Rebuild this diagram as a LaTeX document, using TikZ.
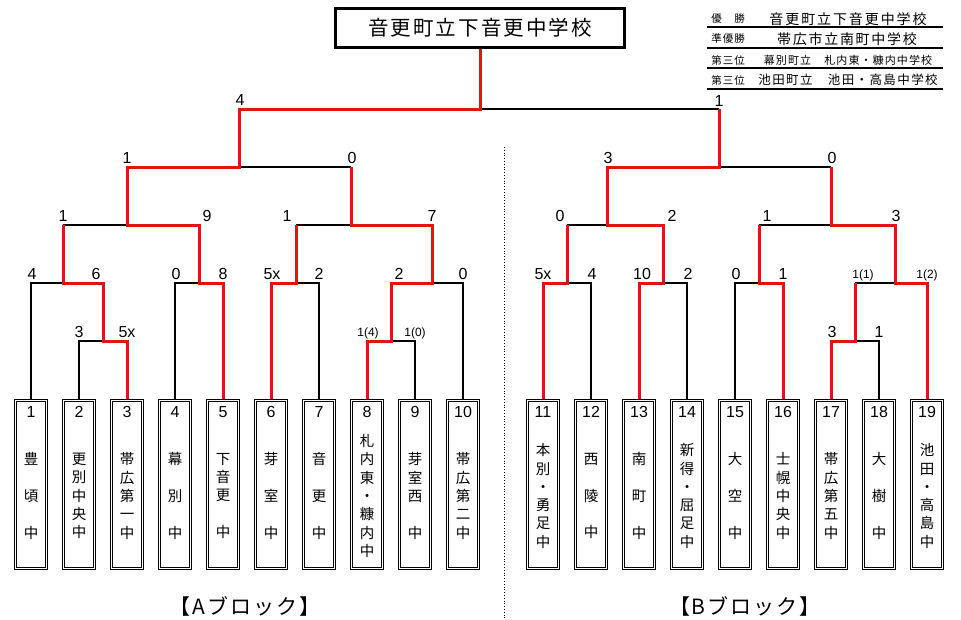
\documentclass[tikz,border=0pt]{standalone}
\usepackage{fontspec}
\setmainfont{Liberation Sans}
\newfontfamily\jp{Noto Sans CJK JP}
\usetikzlibrary{calc,backgrounds}
\definecolor{wred}{RGB}{228,18,18}
\newlength\cwid
\def\spacedloop#1{\ifx#1\relax\else\makebox[\cwid]{#1}\expandafter\spacedloop\fi}
\newcommand\spaced[2]{\setlength\cwid{#1}\spacedloop#2\relax}
\newcommand\gp{\phantom{中}}
\tikzset{
 win/.style={draw=wred, line width=3pt},
 lose/.style={draw=black, line width=1.8pt},
 tbox/.style={draw=black, line width=0.7pt, double=white, double distance=1.6pt, fill=white, minimum width=31pt, minimum height=168pt, inner sep=0pt},
 tnum/.style={font=\fontsize{16}{16}\selectfont, inner sep=0pt},
 tname/.style={font=\jp\fontsize{14.5}{18.3}\selectfont, align=center, inner sep=0pt},
 sc/.style={font=\fontsize{16}{16}\selectfont, inner sep=0pt, text height=11.5pt, text depth=0pt},
 scs/.style={font=\fontsize{12}{12}\selectfont, inner sep=0pt, text height=8.6pt, text depth=0pt},
 leglab/.style={font=\jp\fontsize{10.5}{10.5}\selectfont, inner sep=0pt},
 legtxt/.style={font=\jp, inner sep=0pt},
 blk/.style={font=\jp\fontsize{21}{21}\selectfont, inner sep=0pt},
 rule/.style={draw=black, line width=2pt},
}
\begin{document}
\begin{tikzpicture}[x=1pt,y=-1pt]
\useasboundingbox (0,0) rectangle (961,619);
% title
\node[draw=black, line width=3pt, minimum width=289pt, minimum height=39pt, inner sep=0pt] (title) at (480,28)
  {\jp\fontsize{20.5}{20.5}\selectfont\spaced{22.6pt}{音更町立下音更中学校}};
% team boxes and numbers
\foreach \i/\x in {1/31,2/79,3/127,4/175,5/223,6/271,7/319,8/367,9/415,10/463,
                   11/543,12/591,13/639,14/687,15/735,16/783,17/831,18/879,19/927}{
  \node[tbox] (t\i) at (\x,484.5) {};
  \node[tnum] (n\i) at (\x,412) {\i};
}
% team names
\node[tname] (nm1) at (31,496) {豊\\\gp\\頃\\\gp\\中};
\node[tname] (nm2) at (79,496) {更\\別\\中\\央\\中};
\node[tname] (nm3) at (127,496) {帯\\広\\第\\一\\中};
\node[tname] (nm4) at (175,496) {幕\\\gp\\別\\\gp\\中};
\node[tname] (nm5) at (223,496) {下\\音\\更\\\gp\\中};
\node[tname] (nm6) at (271,496) {芽\\\gp\\室\\\gp\\中};
\node[tname] (nm7) at (319,496) {音\\\gp\\更\\\gp\\中};
\node[tname] (nm8) at (367,496) {札\\内\\東\\・\\糠\\内\\中};
\node[tname] (nm9) at (415,496) {芽\\室\\西\\\gp\\中};
\node[tname] (nm10) at (463,496) {帯\\広\\第\\二\\中};
\node[tname] (nm11) at (543,496) {本\\別\\・\\勇\\足\\中};
\node[tname] (nm12) at (591,496) {西\\\gp\\陵\\\gp\\中};
\node[tname] (nm13) at (639,496) {南\\\gp\\町\\\gp\\中};
\node[tname] (nm14) at (687,496) {新\\得\\・\\屈\\足\\中};
\node[tname] (nm15) at (735,496) {大\\\gp\\空\\\gp\\中};
\node[tname] (nm16) at (783,496) {士\\幌\\中\\央\\中};
\node[tname] (nm17) at (831,496) {帯\\広\\第\\五\\中};
\node[tname] (nm18) at (879,496) {大\\\gp\\樹\\\gp\\中};
\node[tname] (nm19) at (927,496) {池\\田\\・\\高\\島\\中};
% junctions
\coordinate (j23) at (103,341);
\coordinate (j123) at (63,283);
\coordinate (j45) at (199,283);
\coordinate (j67) at (296,283);
\coordinate (j89) at (391,341);
\coordinate (j8910) at (432,283);
\coordinate (jA1) at (127,225);
\coordinate (jA2) at (351,225);
\coordinate (jA) at (239,167);
\coordinate (jF) at (480,109);
\coordinate (j1112) at (567,283);
\coordinate (j1314) at (663,283);
\coordinate (j1516) at (759,283);
\coordinate (j1718) at (855,341);
\coordinate (j171819) at (895,283);
\coordinate (jB1) at (607,225);
\coordinate (jB2) at (831,225);
\coordinate (jB) at (719,167);
\begin{pgfonlayer}{background}
\fill[white] (0,0) rectangle (961,619);
% losing lines
\draw[lose] (t1.north) |- (j123);
\draw[lose] (t2.north) |- (j23);
\draw[lose] (t4.north) |- (j45);
\draw[lose] (t7.north) |- (j67);
\draw[lose] (t9.north) |- (j89);
\draw[lose] (t10.north) |- (j8910);
\draw[lose] (t12.north) |- (j1112);
\draw[lose] (t14.north) |- (j1314);
\draw[lose] (t15.north) |- (j1516);
\draw[lose] (t18.north) |- (j1718);
\draw[lose] (j123 |- jA1) -- (jA1);
\draw[lose] (j67 |- jA2) -- (jA2);
\draw[lose] (jA2 |- jA) -- (jA);
\draw[lose] (j1112 |- jB1) -- (jB1);
\draw[lose] (j1516 |- jB2) -- (jB2);
\draw[lose] (j1718 |- j171819) -- (j171819);
\draw[lose] (jB2 |- jB) -- (jB);
\draw[lose] (jB |- jF) -- (jF);
% winning lines
\draw[win] (t3.north) |- (j23) |- (j123) -- (j123 |- jA1);
\draw[win] (t6.north) |- (j67) -- (j67 |- jA2);
\draw[win] (t8.north) |- (j89) |- (j8910) |- (jA2) -- (jA2 |- jA);
\draw[win] (t11.north) |- (j1112) -- (j1112 |- jB1);
\draw[win] (t16.north) |- (j1516) -- (j1516 |- jB2);
\draw[win] (t17.north) |- (j1718) -- (j1718 |- j171819);
\draw[win] (t19.north) |- (j171819) |- (jB2) -- (jB2 |- jB);
\draw[win] (t13.north) |- (j1314) |- (jB1) |- (jB) -- (jB |- jF);
\draw[win] (t5.north) |- (j45) |- (jA1) |- (jA) |- (jF) -- (title.south);
\end{pgfonlayer}
% separator
\draw[dotted, line width=0.8pt] (504,147) -- (504,619);
% scores
\node[sc] (s1) at (240,100) {4};
\node[sc] (s2) at (719,101) {1};
\node[sc] (s3) at (127,158) {1};
\node[sc] (s4) at (352,158) {0};
\node[sc] (s5) at (608,158) {3};
\node[sc] (s6) at (832,158) {0};
\node[sc] (s7) at (63,216) {1};
\node[sc] (s8) at (207,216) {9};
\node[sc] (s9) at (287,216) {1};
\node[sc] (s10) at (432,216) {7};
\node[sc] (s11) at (560,216) {0};
\node[sc] (s12) at (672,216) {2};
\node[sc] (s13) at (767,216) {1};
\node[sc] (s14) at (896,216) {3};
\node[sc] (s15) at (32,274) {4};
\node[sc] (s16) at (96,274) {6};
\node[sc] (s17) at (176,274) {0};
\node[sc] (s18) at (223,274) {8};
\node[sc] (s19) at (272,274) {5x};
\node[sc] (s20) at (319,274) {2};
\node[sc] (s21) at (399,274) {2};
\node[sc] (s22) at (463,274) {0};
\node[sc] (s23) at (543,274) {5x};
\node[sc] (s24) at (592,274) {4};
\node[sc] (s25) at (642,274) {10};
\node[sc] (s26) at (688,274) {2};
\node[sc] (s27) at (736,274) {0};
\node[sc] (s28) at (783,274) {1};
\node[scs] (s29) at (863,274) {1(1)};
\node[scs] (s30) at (927,274) {1(2)};
\node[sc] (s31) at (79,332) {3};
\node[sc] (s32) at (127,332) {5x};
\node[scs] (s33) at (368,332) {1(4)};
\node[scs] (s34) at (415,332) {1(0)};
\node[sc] (s35) at (832,332) {3};
\node[sc] (s36) at (879,332) {1};
% legend
\node[leglab] (l1) at (728,19) {\spaced{11.5pt}{優　勝}};
\node[leglab] (l2) at (728,39) {\spaced{11.5pt}{準優勝}};
\node[leglab] (l3) at (728,60) {\spaced{11.5pt}{第三位}};
\node[leglab] (l4) at (728,80) {\spaced{11.5pt}{第三位}};
\node[legtxt] (w1) at (848,19) {\fontsize{14}{14}\selectfont\spaced{15.9pt}{音更町立下音更中学校}};
\node[legtxt] (w2) at (847,39) {\fontsize{14}{14}\selectfont\spaced{15.7pt}{帯広市立南町中学校}};
\node[legtxt] (w3) at (848,60) {\fontsize{11}{11}\selectfont\spaced{12.1pt}{幕別町立　札内東・糠内中学校}};
\node[legtxt] (w4) at (848,80) {\fontsize{12.5}{12.5}\selectfont\spaced{13.9pt}{池田町立　池田・高島中学校}};
\draw[rule] (707,27) -- (943,27);
\draw[rule] (707,48) -- (943,48);
\draw[rule] (707,68) -- (943,68);
\draw[rule] (707,89) -- (943,89);
% block labels
\node[blk] (ba) at (245,606) {【\hspace{1.5pt}A\hspace{1.5pt}\spaced{23pt}{ブロック}\hspace{1pt}】};
\node[blk] (bb) at (745,606) {【\hspace{1.5pt}B\hspace{1.5pt}\spaced{23pt}{ブロック}\hspace{1pt}】};
\end{tikzpicture}
\end{document}
